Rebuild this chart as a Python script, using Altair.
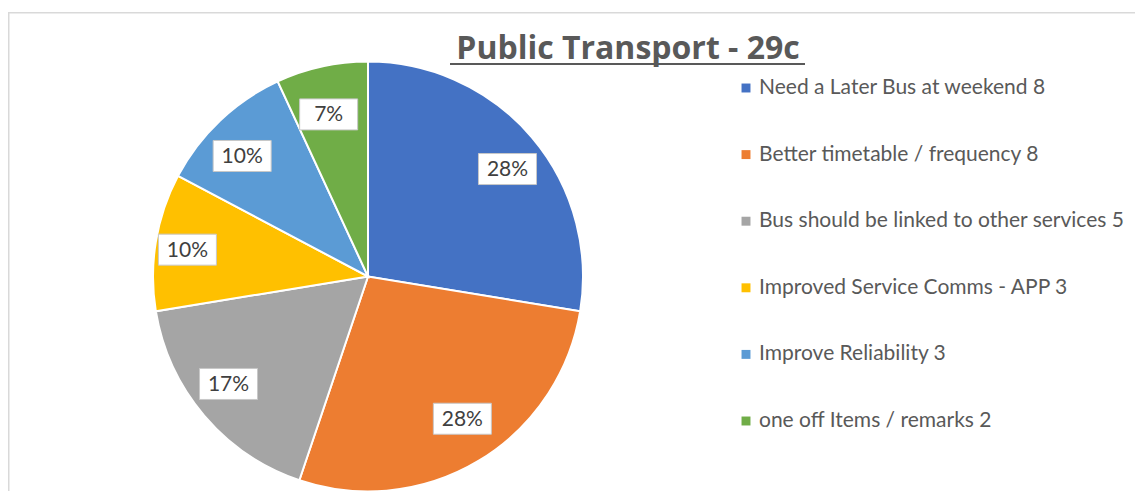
import altair as alt
import pandas as pd

categories = [
    "Need a Later Bus at weekend 8",
    "Better timetable / frequency 8",
    "Bus should be linked to other services 5",
    "Improved Service  Comms - APP 3",
    "Improve Reliability 3",
    "one off Items / remarks 2",
]
values = [8, 8, 5, 3, 3, 2]
colors = ["#4472C4", "#ED7D31", "#A5A5A5", "#FFC000", "#5B9BD5", "#70AD47"]
title_text = "Public Transport - 29c"

df = pd.DataFrame({"category": categories, "value": values, "order": list(range(len(values)))})
one = pd.DataFrame({"a": [0]})

W, H = 1127, 483
CX, CY = 360, 268.5
R = 215
LRX, LRY = 183, 166
BW, BH = 29, 15.5

color = alt.Color("category:N", scale=alt.Scale(domain=categories, range=colors), legend=None)

base = (
    alt.Chart(df)
    .transform_joinaggregate(total="sum(value)")
    .transform_window(cum="sum(value)", sort=[alt.SortField("order")])
    .transform_calculate(
        mid="(datum.cum - datum.value/2)/datum.total*2*PI",
        pct="format(datum.value/datum.total, '.0%')",
    )
    .transform_calculate(
        lx=f"{CX} + {LRX}*sin(datum.mid)",
        ly=f"{CY} - {LRY}*cos(datum.mid)",
    )
    .transform_calculate(
        bx1=f"datum.lx - {BW}", bx2=f"datum.lx + {BW}",
        by1=f"datum.ly - {BH}", by2=f"datum.ly + {BH}",
    )
)

pie = alt.Chart(df).mark_arc(outerRadius=R, stroke="white", strokeWidth=2).encode(
    theta=alt.Theta("value:Q", stack=True),
    color=color,
    order=alt.Order("order:Q"),
    x=alt.value(CX),
    y=alt.value(CY),
)

boxes = base.mark_rect(fill="white", stroke="#c8c8c8", strokeWidth=1).encode(
    x=alt.X("bx1:Q", scale=None, axis=None),
    x2="bx2:Q",
    y=alt.Y("by1:Q", scale=None, axis=None),
    y2="by2:Q",
)

labels = base.mark_text(font="Lato", fontSize=21, color="#404040", baseline="middle", dy=1).encode(
    x=alt.X("lx:Q", scale=None, axis=None),
    y=alt.Y("ly:Q", scale=None, axis=None),
    text="pct:N",
)

leg = alt.Chart(df).transform_calculate(legy="80 + datum.order*66.6")
leg_sym = leg.mark_square(size=80, opacity=1).encode(
    x=alt.value(738),
    y=alt.Y("legy:Q", scale=None, axis=None),
    color=color,
)
leg_txt = leg.mark_text(align="left", baseline="middle", font="Lato", fontSize=21, color="#595959").encode(
    x=alt.value(751),
    y=alt.Y("legy:Q", scale=None, axis=None),
    text="category:N",
)

title = alt.Chart(one).mark_text(
    text=title_text, font="Open Sans", fontSize=32, fontWeight="bold", color="#595959",
    align="center", baseline="alphabetic",
).encode(x=alt.value(620), y=alt.value(51))

underline = alt.Chart(one).mark_rule(color="#595959", strokeWidth=2).encode(
    x=alt.value(442), x2=alt.value(797), y=alt.value(56)
)

border_top = alt.Chart(one).mark_rule(color="#d9d9d9", strokeWidth=1.5).encode(
    x=alt.value(0), x2=alt.value(W), y=alt.value(4.75)
)
border_left = alt.Chart(one).mark_rule(color="#d9d9d9", strokeWidth=1.5).encode(
    x=alt.value(0.75), y=alt.value(4), y2=alt.value(H)
)

chart = (
    alt.layer(border_top, border_left, pie, boxes, labels, leg_sym, leg_txt, title, underline)
    .properties(width=W, height=H, autosize=alt.AutoSizeParams(type="none"), padding=0)
    .configure_view(stroke=None)
)

chart.save("out.html", embed_options={"renderer": "svg", "actions": False})
